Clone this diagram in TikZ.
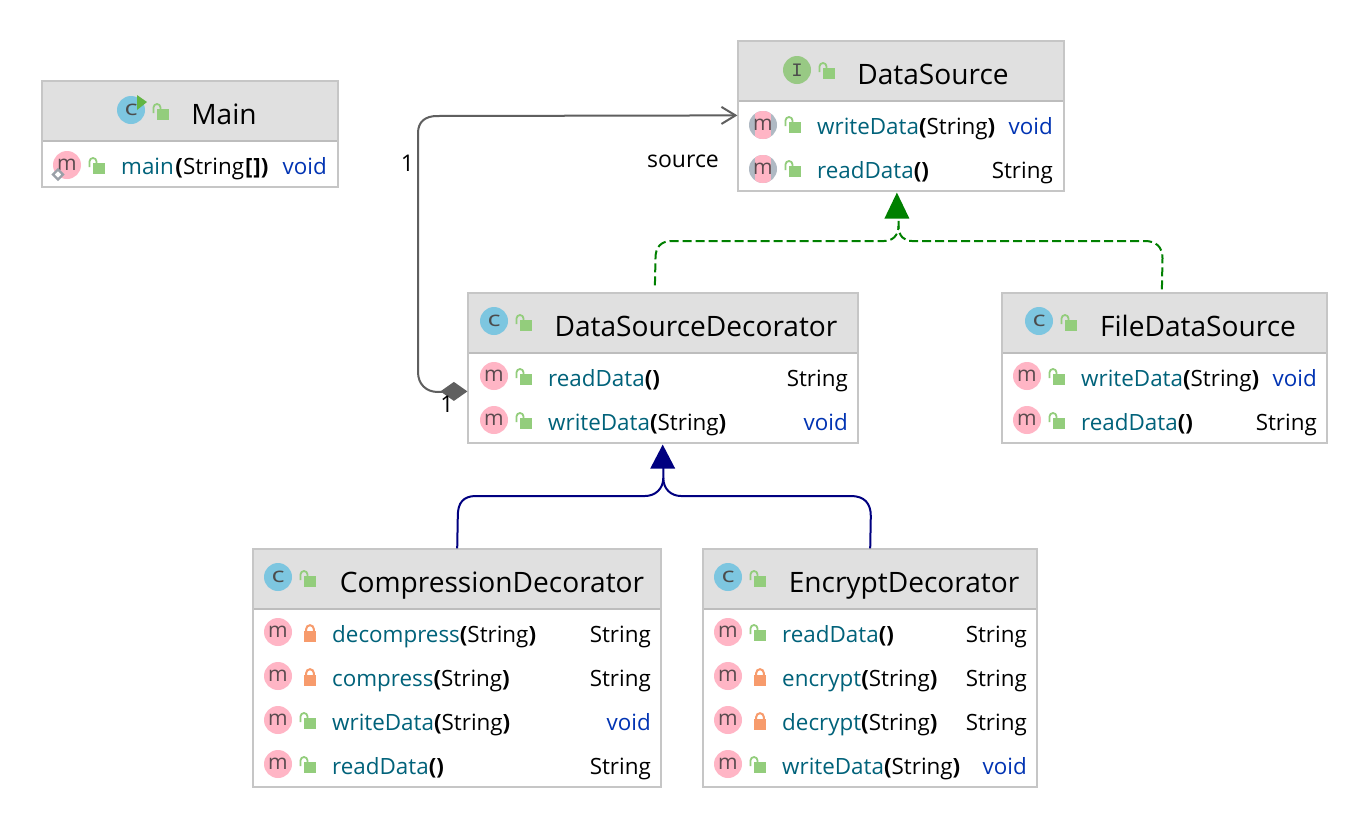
\documentclass[tikz,border=0pt]{standalone}
\usepackage{fontspec}
\setmainfont{Open Sans}
\newfontfamily\monoi{Liberation Mono}
\usetikzlibrary{arrows.meta}
\definecolor{hdr}{HTML}{E0E0E0}
\definecolor{bord}{HTML}{C6C6C6}
\definecolor{sep}{HTML}{BDBDBD}
\definecolor{teal}{HTML}{00627A}
\definecolor{voidc}{HTML}{0033B3}
\definecolor{pinkm}{HTML}{FFB5C5}
\definecolor{bluec}{HTML}{7DC6E0}
\definecolor{greeni}{HTML}{98C984}
\definecolor{lockg}{HTML}{93CD7C}
\definecolor{locko}{HTML}{F79B6C}
\definecolor{graym}{HTML}{AFB9C3}
\definecolor{iconink}{HTML}{5A4A4E}
\definecolor{linkgray}{HTML}{5F5F5F}
\definecolor{implgreen}{HTML}{008000}
\definecolor{extblue}{HTML}{000080}
\definecolor{runarrow}{HTML}{62B543}
\definecolor{staticgray}{HTML}{9AA0A8}
\newcount\nodeno
\newcommand{\stepn}{\global\advance\nodeno by 1 }
\tikzset{
  classbox/.style={draw=bord,line width=1.2pt,inner sep=0pt,fill=white},
  titletext/.style={inner sep=0pt,anchor=base,font=\fontsize{28.1}{30}\selectfont,text=black},
  membertext/.style={inner sep=0pt,anchor=base west,font=\fontsize{22.4}{24}\selectfont},
  rettext/.style={inner sep=0pt,anchor=base east,font=\fontsize{22.4}{24}\selectfont},
  linktext/.style={inner sep=0pt,anchor=base,font=\fontsize{23}{24}\selectfont,text=black},
  iconbase/.style={circle,minimum size=28pt,inner sep=0pt,text=iconink,font=\fontsize{21}{22}\selectfont},
  gray link/.style={draw=linkgray,line width=2pt},
  impl link/.style={draw=implgreen,line width=2pt,dash pattern=on 9pt off 4pt},
  ext link/.style={draw=extblue,line width=2pt},
}
% x1,y1,x2,y2,name
\newcommand{\classbox}[5]{%
  \node[classbox,minimum width=#3pt-#1pt,minimum height=#4pt-#2pt] (#5) at ({(#1+#3)/2},{(#2+#4)/2}) {};
  \fill[hdr] (#1,#2) rectangle (#3,#2+60);
  \fill[sep] (#1,#2+59) rectangle (#3,#2+61);
  \draw[bord,line width=1.2pt] (#1,#2) rectangle (#3,#4);
}
\newcommand{\openlock}[2]{%
  \begin{scope}[shift={(#1,#2)}]
    \fill[lockg] (-4,-2) rectangle (8,9);
    \draw[lockg,line width=1.8pt] (-7.5,2) -- (-7.5,-3.5) arc[start angle=180,end angle=360,radius=3.5] -- (-0.5,-2);
  \end{scope}}
\newcommand{\closedlock}[2]{%
  \begin{scope}[shift={(#1,#2)}]
    \fill[locko] (-6,-2) rectangle (6,9);
    \draw[locko,line width=2pt] (-3.8,-2) -- (-3.8,-4) arc[start angle=180,end angle=360,radius=3.8] -- (3.8,-2);
  \end{scope}}
\newcommand{\mIcon}[2]{\stepn\node[iconbase,fill=pinkm] (n\the\nodeno) at (#1,#2) {m};}
\newcommand{\cIcon}[2]{\stepn\node[iconbase,fill=bluec,text=black!70] (n\the\nodeno) at (#1,#2) {\scalebox{1.3}[1]{c}};}
% grey-ringed abstract method icon
\newcommand{\aIcon}[2]{%
  \fill[graym] (#1,#2) circle (14);
  \begin{scope}\clip (#1,#2) circle (14);\fill[pinkm] (#1-8,#2-14) rectangle (#1+8,#2+14);\end{scope}
  \stepn\node[iconbase] (n\the\nodeno) at (#1,#2) {m};}
% text x, y, name, args, ret right x, ret, colour
\newcommand{\member}[7]{%
  \stepn\node[membertext] (n\the\nodeno) at (#1,#2+8) {\textcolor{teal}{#3}\textbf{(}#4\textbf{)}};
  \stepn\node[rettext,text=#7] (n\the\nodeno) at (#5,#2+8) {#6};}
\begin{document}
\begin{tikzpicture}[x=1pt,y=-1pt]
\useasboundingbox (0,0) rectangle (1370,828);
\fill[white] (0,0) rectangle (1370,828);

% ---- Main
\classbox{42}{81}{338}{187}{main}
\cIcon{131}{110}
\fill[runarrow] (137,95) -- (147,102) -- (137,110) -- cycle;
\openlock{161}{111}
\node[titletext] (mainT) at (224,124) {Main};
\mIcon{67}{165}
\draw[staticgray,line width=2.4pt,fill=white] (58,169.5) -- (63,174.5) -- (58,179.5) -- (53,174.5) -- cycle;
\openlock{97}{165}
\node[membertext] (mainM) at (121,174) {\textcolor{teal}{main}\hspace{1.5pt}\textbf{(}String\hspace{1pt}\textbf{[\hspace{1pt}])}};
\node[rettext,text=voidc] (mainR) at (327,174) {void};

% ---- DataSource
\classbox{738}{41}{1064}{191}{ds}
\stepn\node[iconbase,fill=greeni,text=black!70] (dsI) at (797,70) {\monoi\fontsize{19}{20}\selectfont I};
\openlock{827}{70}
\node[titletext] (dsT) at (933,84) {DataSource};
\aIcon{763}{125}
\openlock{793}{124}
\member{817}{126}{writeData}{String}{1053}{void}{voidc}
\aIcon{763}{169}
\openlock{793}{168}
\member{817}{170}{readData}{}{1053}{String}{black}

% ---- DataSourceDecorator
\classbox{468}{293}{858}{443}{dsd}
\cIcon{494}{321}
\openlock{524}{322}
\node[titletext] (dsdT) at (696,336) {DataSourceDecorator};
\mIcon{494}{376}
\openlock{524}{376}
\member{548}{378}{readData}{}{848}{String}{black}
\mIcon{494}{420}
\openlock{524}{420}
\member{548}{422}{writeData}{String}{848}{void}{voidc}

% ---- FileDataSource
\classbox{1002}{293}{1327}{443}{fds}
\cIcon{1039}{321}
\openlock{1069}{322}
\node[titletext] (fdsT) at (1198,336) {FileDataSource};
\mIcon{1027}{376}
\openlock{1057}{376}
\member{1081}{378}{writeData}{String}{1317}{void}{voidc}
\mIcon{1027}{420}
\openlock{1057}{420}
\member{1081}{422}{readData}{}{1317}{String}{black}

% ---- CompressionDecorator
\classbox{253}{549}{661}{787}{comp}
\cIcon{278}{577}
\openlock{308}{578}
\node[titletext] (compT) at (492,592) {CompressionDecorator};
\mIcon{278}{632}
\closedlock{310}{633}
\member{332}{634}{decompress}{String}{651}{String}{black}
\mIcon{278}{676}
\closedlock{310}{677}
\member{332}{678}{compress}{String}{651}{String}{black}
\mIcon{278}{720}
\openlock{308}{720}
\member{332}{722}{writeData}{String}{651}{void}{voidc}
\mIcon{278}{764}
\openlock{308}{764}
\member{332}{766}{readData}{}{651}{String}{black}

% ---- EncryptDecorator
\classbox{703}{549}{1037}{787}{enc}
\cIcon{728}{577}
\openlock{758}{578}
\node[titletext] (encT) at (904,592) {EncryptDecorator};
\mIcon{728}{632}
\openlock{758}{632}
\member{782}{634}{readData}{}{1027}{String}{black}
\mIcon{728}{676}
\closedlock{760}{677}
\member{782}{678}{encrypt}{String}{1027}{String}{black}
\mIcon{728}{720}
\closedlock{760}{721}
\member{782}{722}{decrypt}{String}{1027}{String}{black}
\mIcon{728}{764}
\openlock{758}{764}
\member{782}{766}{writeData}{String}{1027}{void}{voidc}

% ---- Connectors
\coordinate (dsdDia) at ([yshift=-99pt]dsd.north west);
\coordinate (dsLeft) at ([yshift=-75pt]ds.north west);
\draw[gray link,-{Straight Barb[length=14pt,width=17pt,line width=2pt]}]
  ([xshift=-20pt]dsdDia) -- (438,392) .. controls (426,392) and (418,384) .. (418,372)
  -- (418,133) .. controls (418,122) and (425,116) .. (437,116) -- (dsLeft);
\fill[linkgray] (dsdDia) -- ++(-13.5,-9.5) -- ++(-13.5,9.5) -- ++(13.5,9.5) -- cycle;
\node[linktext] (lblA) at (407.5,171) {1};
\node[linktext] (lblB) at (683,167) {source};
\node[linktext] (lblC) at (447,412.5) {1};

\coordinate (dsTip) at ([xshift=159.5pt]ds.south west);
\coordinate (dsdImpl) at ([xshift=187.5pt]dsd.north west);
\coordinate (fdsImpl) at ([xshift=160.5pt]fds.north west);
\draw[impl link] ([yshift=7pt]dsdImpl) -- (655.5,258) .. controls (655.5,247) and (661,241) .. (672,241) -- (884,241) .. controls (892,241) and (898.5,236) .. (898.5,226) -- (898.5,216);
\draw[impl link] ([yshift=3pt]fdsImpl) -- (1162.5,258) .. controls (1162.5,247) and (1156,241) .. (1145,241) -- (912,241) .. controls (904,241) and (898.5,236) .. (898.5,226);
\fill[implgreen] ([yshift=-1pt]dsTip) -- ++(-12.5,26) -- ++(25,0) -- cycle;

\coordinate (dsdTip) at ([xshift=195.3pt]dsd.south west);
\coordinate (compExt) at ([xshift=204.8pt]comp.north west);
\coordinate (encExt) at ([xshift=167.8pt]enc.north west);
\draw[ext link] (compExt) -- (457.8,516) .. controls (457.8,503) and (463,496) .. (476,496) -- (645,496) .. controls (655,496) and (663.3,489) .. (663.3,478) -- (663.3,466);
\draw[ext link] (encExt) -- (870.8,516) .. controls (870.8,503) and (864,496) .. (851,496) -- (681,496) .. controls (671,496) and (663.3,489) .. (663.3,478);
\fill[extblue] ([yshift=-1pt]dsdTip) -- ++(-12.5,24) -- ++(25,0) -- cycle;
\end{tikzpicture}
\end{document}
